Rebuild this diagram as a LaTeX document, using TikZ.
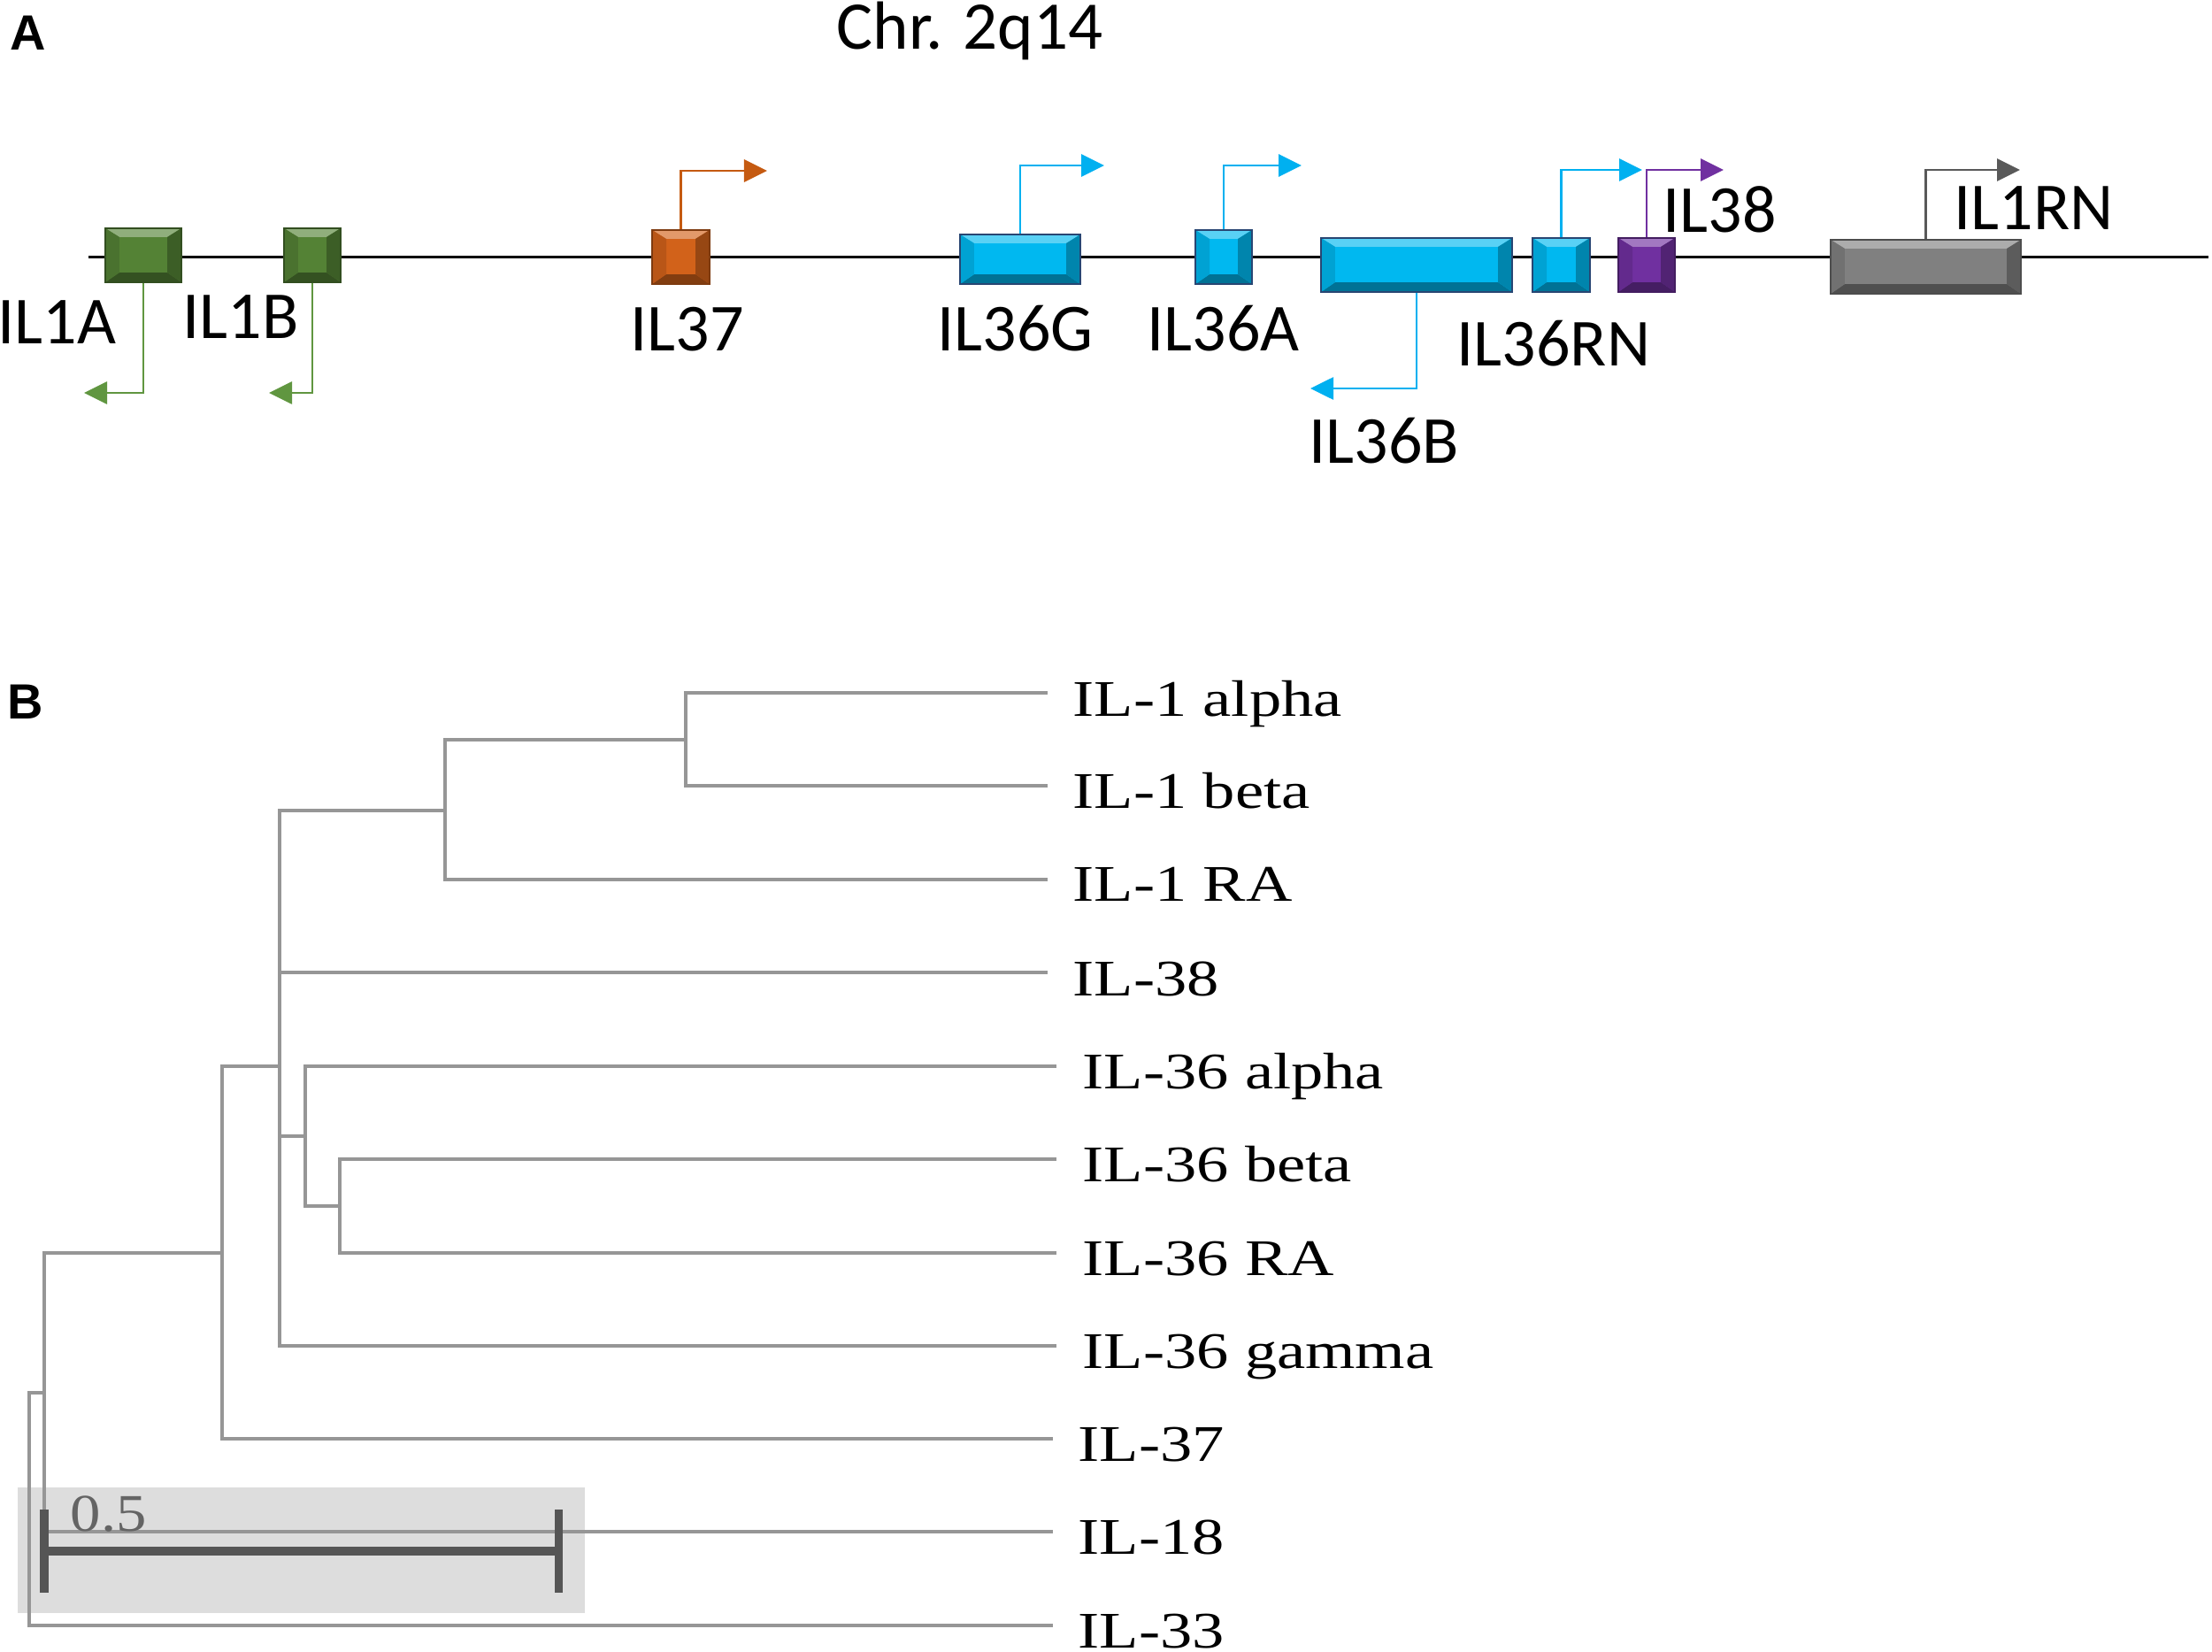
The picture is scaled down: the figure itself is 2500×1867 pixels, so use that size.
\documentclass[tikz,border=0pt]{standalone}
\usepackage{fontspec}
\usepackage{graphicx}
\usetikzlibrary{arrows.meta}
\newfontfamily\carl{Carlito}
\newfontfamily\lserif{Liberation Serif}
\newfontfamily\lsans{Liberation Sans}
\newcommand\tiplab[1]{\scalebox{1.25}[1]{#1}}
\definecolor{cGreen}{RGB}{84,130,53}
\definecolor{cOrange}{RGB}{210,98,26}
\definecolor{cBlue}{RGB}{0,184,240}
\definecolor{cPurple}{RGB}{112,48,160}
\definecolor{cGray}{RGB}{128,128,128}
\definecolor{bNavy}{RGB}{40,70,115}
\definecolor{aGreen}{RGB}{96,150,64}
\definecolor{aOrange}{RGB}{197,90,17}
\definecolor{aBlue}{RGB}{0,176,240}
\definecolor{aPurple}{RGB}{112,48,160}
\definecolor{aGray}{RGB}{89,89,89}
\definecolor{treegray}{RGB}{150,150,150}
\definecolor{sboxgray}{RGB}{221,221,221}
\definecolor{sbargray}{RGB}{85,85,85}
\definecolor{stxtgray}{RGB}{100,100,100}
\def\ppb{path picture bounding box}
\begin{document}
\begin{tikzpicture}[x=0.01cm,y=-0.01cm,
  gbox/.style={rectangle, inner sep=0pt, draw=#1!60!black, line width=0.012cm, fill=#1,
    path picture={
      \fill[#1!65!white] (\ppb.north west) -- (\ppb.north east) -- ([xshift=-0.16cm,yshift=-0.10cm]\ppb.north east) -- ([xshift=0.16cm,yshift=-0.10cm]\ppb.north west) -- cycle;
      \fill[#1!62!black] (\ppb.south west) -- (\ppb.south east) -- ([xshift=-0.16cm,yshift=0.11cm]\ppb.south east) -- ([xshift=0.16cm,yshift=0.11cm]\ppb.south west) -- cycle;
      \fill[#1!88!black] (\ppb.north west) -- ([xshift=0.16cm,yshift=-0.10cm]\ppb.north west) -- ([xshift=0.16cm,yshift=0.11cm]\ppb.south west) -- (\ppb.south west) -- cycle;
      \fill[#1!72!black] (\ppb.north east) -- ([xshift=-0.16cm,yshift=-0.10cm]\ppb.north east) -- ([xshift=-0.16cm,yshift=0.11cm]\ppb.south east) -- (\ppb.south east) -- cycle;
    }},
  genearrow/.style={draw=#1, line width=0.028cm, -{Triangle[length=0.26cm,width=0.25cm]}},
  chrline/.style={draw=black, line width=0.03cm},
  glab/.style={font=\carl\fontsize{21.6pt}{24pt}\selectfont, anchor=base west, inner sep=0pt},
  plab/.style={font=\lsans\bfseries\fontsize{15.9pt}{18pt}\selectfont, anchor=base west, inner sep=0pt},
  tlab/.style={font=\lserif\fontsize{16.5pt}{19pt}\selectfont, anchor=base west, inner sep=0pt},
  tbranch/.style={draw=treegray, line width=0.04cm},
  sbar/.style={draw=sbargray, line width=0.1cm},
  stick/.style={draw=sbargray, line width=0.09cm}
]
\useasboundingbox (0,0) rectangle (2500,1867);

% ---------------- Panel A ----------------
\node[plab] (labA) at (11,57) {A};
\node[glab, font=\carl\fontsize{21.9pt}{24pt}\selectfont] (chr) at (945,56) {Chr. 2q14};

\coordinate (chrL) at (100,291);
\coordinate (chrR) at (2496,291);
\draw[chrline] (chrL) -- (chrR);

\node[gbox=cGreen, minimum width=0.86cm, minimum height=0.61cm] (il1a) at (162,288.5) {};
\node[gbox=cGreen, minimum width=0.64cm, minimum height=0.61cm] (il1b) at (353,288.5) {};
\node[gbox=cOrange, minimum width=0.65cm, minimum height=0.61cm] (il37) at (769.5,290.5) {};
\node[gbox=cBlue, draw=bNavy, minimum width=1.36cm, minimum height=0.56cm] (il36g) at (1153,293) {};
\node[gbox=cBlue, draw=bNavy, minimum width=0.64cm, minimum height=0.61cm] (il36a) at (1383,290.5) {};
\node[gbox=cBlue, draw=bNavy, minimum width=2.16cm, minimum height=0.61cm] (il36b) at (1601,299.5) {};
\node[gbox=cBlue, draw=bNavy, minimum width=0.65cm, minimum height=0.61cm] (il36rn) at (1764.5,299.5) {};
\node[gbox=cPurple, minimum width=0.64cm, minimum height=0.61cm] (il38) at (1861,299.5) {};
\node[gbox=cGray, minimum width=2.15cm, minimum height=0.61cm] (il1rn) at (2176.5,301.5) {};

\coordinate (il1aT) at (95,444);
\coordinate (il1bT) at (304,444);
\coordinate (il37T) at (867,193);
\coordinate (il36gT) at (1248,187);
\coordinate (il36aT) at (1471,187);
\coordinate (il36bT) at (1481,439);
\coordinate (il36rnT) at (1856,192);
\coordinate (il38T) at (1948,192);
\coordinate (il1rnT) at (2283,192);

\draw[genearrow=aGreen] (il1a.south) |- (il1aT);
\draw[genearrow=aGreen] (il1b.south) |- (il1bT);
\draw[genearrow=aOrange] (il37.north) |- (il37T);
\draw[genearrow=aBlue] (il36g.north) |- (il36gT);
\draw[genearrow=aBlue] (il36a.north) |- (il36aT);
\draw[genearrow=aBlue] (il36b.south) |- (il36bT);
\draw[genearrow=aBlue] (il36rn.north) |- (il36rnT);
\draw[genearrow=aPurple] (il38.north) |- (il38T);
\draw[genearrow=aGray] (il1rn.north) |- (il1rnT);

\node[glab] (l1a) at (-3,389) {IL1A};
\node[glab] (l1b) at (206,383) {IL1B};
\node[glab] (l37) at (712,397) {IL37};
\node[glab] (l36g) at (1059,397) {IL36G};
\node[glab] (l36a) at (1296,397) {IL36A};
\node[glab] (l36b) at (1479,523) {IL36B};
\node[glab] (l36rn) at (1646,413) {IL36RN};
\node[glab] (l38) at (1879,263) {IL38};
\node[glab] (l1rn) at (2208,260) {IL1RN};

% ---------------- Panel B ----------------
\node[plab] (labB) at (8,812) {B};

\fill[sboxgray] (20,1681) rectangle (661,1823);

\coordinate (root) at (33,1705);
\coordinate (n18) at (50,1574);
\coordinate (n37) at (251,1416);
\coordinate (nM) at (316,1205);
\coordinate (nA) at (345,1284);
\coordinate (nBR) at (384,1363);
\coordinate (n2) at (503,916);
\coordinate (n1) at (775,836);

\coordinate (e1) at (1184,783);
\coordinate (e2) at (1184,888);
\coordinate (e3) at (1184,994);
\coordinate (e4) at (1184,1099);
\coordinate (e5) at (1194,1205);
\coordinate (e6) at (1194,1310);
\coordinate (e7) at (1194,1416);
\coordinate (e8) at (1194,1521);
\coordinate (e9) at (1190,1626);
\coordinate (e10) at (1190,1731);
\coordinate (e11) at (1190,1837);

\draw[tbranch] (n1) |- (e1);
\draw[tbranch] (n1) |- (e2);
\draw[tbranch] (n2) |- (n1);
\draw[tbranch] (n2) |- (e3);
\draw[tbranch] (nM) |- (n2);
\draw[tbranch] (nM) |- (e4);
\draw[tbranch] (nM) |- (nA);
\draw[tbranch] (nM) |- (e8);
\draw[tbranch] (nA) |- (e5);
\draw[tbranch] (nA) |- (nBR);
\draw[tbranch] (nBR) |- (e6);
\draw[tbranch] (nBR) |- (e7);
\draw[tbranch] (n37) |- (nM);
\draw[tbranch] (n37) |- (e9);
\draw[tbranch] (n18) |- (n37);
\draw[tbranch] (n18) |- (e10);
\draw[tbranch] (root) |- (n18);
\draw[tbranch] (root) |- (e11);

\node[tlab] (t1) at (1212,809) {\tiplab{IL-1 alpha}};
\node[tlab] (t2) at (1212,913) {\tiplab{IL-1 beta}};
\node[tlab] (t3) at (1212,1018) {\tiplab{IL-1 RA}};
\node[tlab] (t4) at (1212,1125) {\tiplab{IL-38}};
\node[tlab] (t5) at (1223,1230) {\tiplab{IL-36 alpha}};
\node[tlab] (t6) at (1223,1335) {\tiplab{IL-36 beta}};
\node[tlab] (t7) at (1223,1441) {\tiplab{IL-36 RA}};
\node[tlab] (t8) at (1223,1546) {\tiplab{IL-36 gamma}};
\node[tlab] (t9) at (1218,1651) {\tiplab{IL-37}};
\node[tlab] (t10) at (1218,1756) {\tiplab{IL-18}};
\node[tlab] (t11) at (1218,1862) {\tiplab{IL-33}};

% scale bar
\coordinate (sL) at (50,1753);
\coordinate (sR) at (631,1753);
\draw[sbar] (sL) -- (sR);
\draw[stick] (50,1706) -- (50,1800);
\draw[stick] (631,1706) -- (631,1800);
\node[tlab, text=stxtgray, font=\lserif\fontsize{17pt}{19pt}\selectfont] (sc) at (79,1730) {\scalebox{1.15}[1]{0.5}};
\end{tikzpicture}
\end{document}
